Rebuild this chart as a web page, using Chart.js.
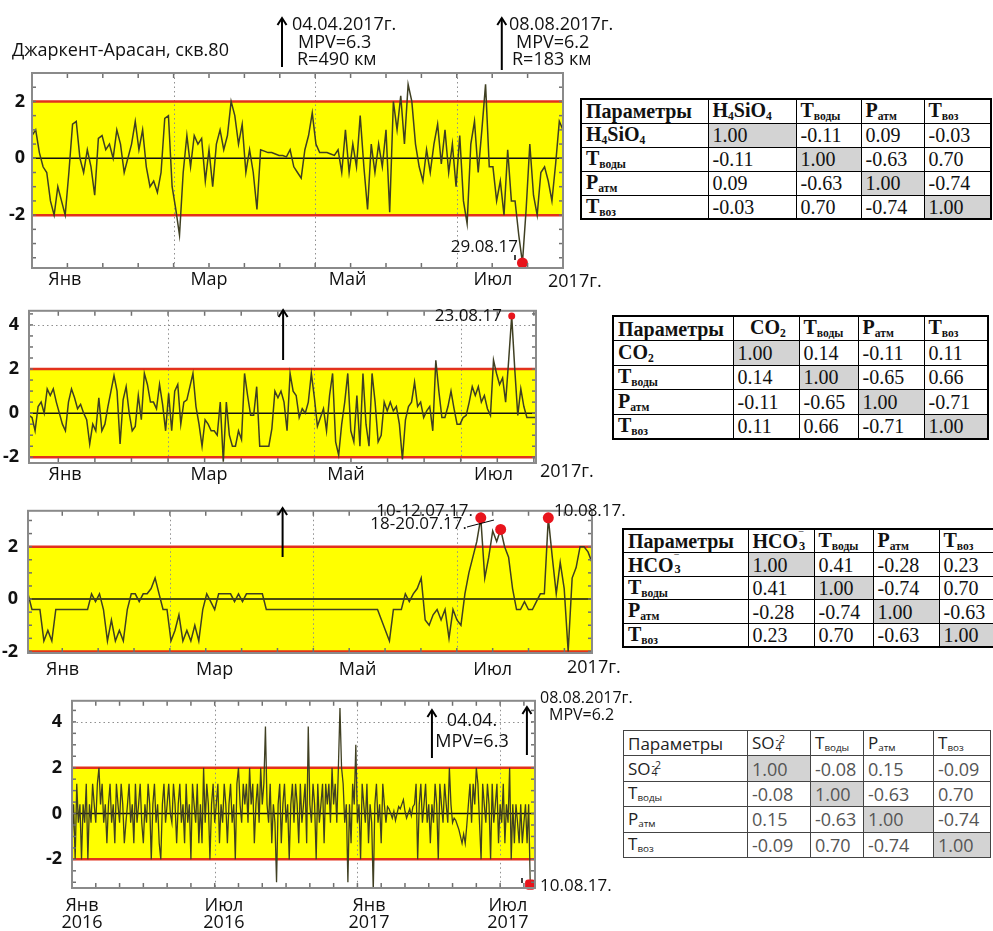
<!DOCTYPE html>
<html><head><meta charset="utf-8">
<script src="https://cdn.jsdelivr.net/npm/chart.js@4"></script>
<style>
html,body{margin:0;padding:0;background:#fff;width:993px;height:931px;overflow:hidden;position:relative}
canvas{position:absolute;left:0}
table.t{position:absolute;border-collapse:collapse;table-layout:fixed;background:#fff;z-index:3}
table.t td{padding:0 0 0 4px;white-space:nowrap;overflow:hidden;vertical-align:middle;line-height:1}
table.serif{font-family:'Liberation Serif','Times New Roman',serif;font-size:20px;color:#111;border:2px solid #000}
table.serif td{border:1px solid #000}
table.sans{font-family:'Open Sans',sans-serif;font-size:18px;color:#555;border:1.5px solid #333}
table.sans td{border:1px solid #444}
td.g{background:#d3d3d3}
td.b{font-weight:bold;color:#111}
td.dk{color:#222;font-size:17px}
td.c{text-align:center}
sub{font-size:58%;vertical-align:-0.25em}
.stack{display:inline-block;vertical-align:-0.15em;line-height:0.75;font-size:62%;text-align:left;margin-left:1px}
</style></head><body>
<canvas id="c1" width="640" height="300" style="top:0px"></canvas>
<canvas id="c2" width="640" height="200" style="top:290px"></canvas>
<canvas id="c3" width="640" height="195" style="top:490px"></canvas>
<canvas id="c4" width="640" height="251" style="top:680px"></canvas>
<script>
// ---------- data ----------
const monthsLabels = ['Янв','Мар','Май','Июл'];
const yTicks1 = [-2,0,2];
const yTicks2 = [-2,0,2,4];

// H4SiO4 normalized series (2017)
const h4sio4 = [0.8,1.0,0.2,-0.3,-0.5,-1.5,-2.0,-1.0,-1.5,-2.0,
-0.5,1.2,1.3,0.0,-0.5,0.3,-0.3,-1.3,0.7,0.8,
0.3,0.5,0.0,1.0,0.5,-0.5,0.0,0.5,1.3,0.3,
1.0,-0.3,-1.0,-0.8,-1.2,-0.5,1.4,1.5,-1.0,-1.8,
-2.7,-0.5,0.8,-0.3,0.8,0.5,0.7,-0.8,0.3,-1.0,
0.5,1.0,0.3,0.8,2.0,1.5,0.5,1.2,-0.5,0.3,
-0.5,-1.8,0.3,0.25,0.2,0.2,0.15,0.1,0.1,0.05,
0.3,-0.3,-0.5,-0.7,0.3,0.8,1.6,0.5,0.2,0.2,
0.2,0.15,0.1,0.3,-0.5,1.0,-0.5,0.5,-0.3,1.5,
-0.3,-1.8,0.5,-0.5,0.5,-0.3,1.0,-1.9,2.0,1.0,
2.2,0.5,2.6,2.0,0.5,-0.3,-0.8,0.3,-0.5,0.5,
1.2,-0.2,1.0,-0.5,0.5,-1.0,0.8,-1.5,-2.3,0.5,
1.3,-0.5,1.0,2.6,-0.3,-0.3,-1.5,-0.8,-2.0,0.3,
-1.5,-1.5,-2.7,-3.68,-1.8,0.5,-1.3,-2.0,-0.5,-0.3,
-0.8,-1.5,-0.2,1.3,1.0];
const h4sio4Events = [133];

// CO2 normalized series (2017)
const co2 = [-0.1,-0.2,-0.8,0.3,0.5,0.0,1.1,0.8,1.1,0.5,
0.0,-0.5,-0.8,0.5,1.1,0.7,0.2,0.4,0.0,-0.3,
-1.4,-0.5,-0.8,0.7,-0.8,-0.5,0.3,1.0,1.7,1.0,
-1.4,0.6,1.2,0.0,-0.8,-0.6,0.8,-0.3,1.8,1.3,
0.5,0.5,0.2,1.3,0.4,-0.8,0.9,-0.8,1.0,1.3,
-0.5,0.5,0.6,1.2,1.8,0.3,-0.5,-1.5,-0.3,-0.5,
-0.8,-0.8,-1.0,0.5,-2.2,0.5,-1.0,-1.5,-1.5,-0.8,
-1.2,1.8,0.8,-0.1,-0.1,1.2,-1.5,-1.5,-1.5,-1.5,
-0.7,1.0,0.7,1.0,0.5,-0.8,1.8,1.0,0.8,-0.2,
0.2,0.0,0.5,1.8,0.7,-0.6,-0.2,0.2,-0.8,0.8,
1.8,-1.3,-1.9,-0.5,0.5,1.8,-0.8,-1.3,0.8,-1.5,
1.8,-0.5,-1.5,1.8,0.5,-1.3,-1.0,0.5,0.1,0.5,
0.1,0.3,-0.5,-2.1,-0.3,0.3,0.5,1.4,0.3,0.5,
-0.2,0.1,0.3,-0.8,2.4,1.0,-0.2,-0.2,0.3,1.0,
0.2,-0.5,-0.5,-0.2,-0.1,0.5,1.2,0.8,1.2,0.5,
0.8,0.2,-0.1,2.4,1.8,1.3,1.6,0.5,2.4,4.4,
2.0,-0.1,1.1,0.3,-0.2,-0.2,-0.2,-0.2];
const co2Events = [159];

// HCO3 normalized series (2017)
const hco3 = [0.2,-0.4,-0.4,-0.4,-1.6,-1.2,-1.6,-0.4,-0.4,-0.4,
-0.4,-0.4,-0.4,-0.4,-0.4,-0.4,0.2,-0.1,0.2,-0.4,
-1.6,-0.8,-1.6,-1.2,-1.6,-0.4,0.2,0.2,-0.1,0.2,
0.2,0.4,0.8,0.2,-0.4,-0.4,-1.6,-1.2,-0.6,-1.6,
-1.2,-1.6,-1.0,-1.6,-0.4,0.2,-0.1,-0.4,0.2,0.2,
0.2,0.2,-0.1,0.2,-0.1,0.2,0.2,0.2,0.2,0.2,
-0.4,-0.4,-0.4,-0.4,-0.4,-0.4,-0.4,-0.4,-0.4,-0.4,
-0.4,-0.4,-0.4,-0.4,-0.4,-0.4,-0.4,-0.4,-0.4,-0.4,
-0.4,-0.4,-0.4,-0.4,-0.4,-0.4,-0.4,-0.4,-0.4,-0.8,
-1.2,-1.6,-0.4,-0.4,-0.4,0.2,-0.1,0.2,0.4,0.8,
-0.8,-1.0,-0.6,-0.4,-0.8,-0.4,-1.5,-0.4,-0.8,-1.0,
0.2,1.0,1.6,2.2,3.1,0.8,1.6,2.6,2.2,2.66,
2.0,1.6,0.4,-0.4,-0.4,-0.1,-0.4,-0.4,-0.1,0.2,
0.2,3.1,1.6,0.2,1.4,0.4,-2.0,0.8,1.2,2.0,
2.0,1.8,1.4];
const hco3Events = [114,119,131];

// SO4 normalized series (Jan 2016 – Aug 2017)
const so4 = [-1.3,0.4,-2.0,1.3,-0.4,0.4,-2.0,0.4,-0.4,1.3,
-2.0,0.4,-0.4,1.3,0.4,-0.4,1.3,2.0,0.4,1.3,
-0.4,0.4,-1.3,0.4,1.3,-0.4,0.4,-1.3,1.3,0.4,
-0.4,1.3,0.4,-1.3,-0.4,0.4,1.3,-0.4,0.4,-1.3,
1.3,-0.4,0.4,1.3,-0.4,-1.3,0.4,-0.4,1.3,0.4,
-2.0,0.4,1.3,-0.4,0.4,-1.3,-2.0,0.4,1.3,-0.4,
0.4,1.3,0.0,-0.4,1.3,0.4,-1.3,0.4,1.3,-0.4,
0.4,-1.3,1.3,-0.4,0.4,-2.0,1.3,0.4,-0.4,1.3,
-1.3,0.4,-1.3,2.0,-0.4,1.3,0.4,-2.0,0.4,1.3,
-0.4,0.4,1.3,-1.3,0.4,-0.4,1.3,0.4,-1.3,0.4,
1.3,-0.4,0.4,-2.0,1.3,2.0,0.4,-0.4,1.3,0.4,
1.3,-0.4,2.0,0.4,1.3,-1.3,0.4,1.3,-0.4,2.0,
0.4,1.3,3.8,0.4,-0.4,1.3,-1.3,0.4,-0.4,-3.0,
0.4,1.3,-1.3,0.4,1.3,-0.4,0.4,-2.0,0.4,1.3,
-0.4,1.3,0.4,-1.3,1.3,-0.4,0.4,1.3,-1.3,3.8,
0.4,-0.4,1.3,0.4,-2.0,1.3,-0.4,0.4,1.3,-1.3,
1.3,0.4,1.3,-0.4,2.0,0.4,1.3,-0.4,2.0,4.6,
2.0,1.3,-0.4,0.4,-3.0,0.4,-1.3,1.3,0.4,3.0,
-0.4,0.4,-2.0,1.3,0.4,-0.4,1.3,-1.3,0.4,-0.4,
-3.4,0.4,1.3,-0.4,0.4,-1.3,1.3,0.4,-0.4,0.3,
0.2,0.0,-0.2,0.1,-0.3,0.0,0.3,0.2,0.4,0.6,
0.1,-0.2,0.0,0.2,-0.1,0.3,0.4,1.3,-2.0,0.4,
1.3,-0.4,0.4,1.3,-0.4,0.4,-1.3,0.4,-0.4,1.3,
0.4,-2.0,1.3,0.4,-0.4,1.3,0.4,-0.4,2.0,0.4,
-0.4,-0.2,-0.3,-0.5,-0.7,-1.0,-1.3,-0.9,-1.3,-0.5,
0.4,1.3,-0.4,1.3,0.4,2.0,1.3,-0.4,-2.0,1.3,
0.4,-0.4,1.3,0.4,-2.0,1.3,-0.4,0.4,1.3,-1.3,
0.4,-0.4,1.3,-1.3,0.4,-0.4,2.0,-2.0,0.4,-1.3,
0.4,-0.4,-1.3,0.4,-1.3,-0.4,0.4,-1.3,0.4,-3.1];
const so4Events = [289];

// correlation tables
const corrH4SiO4 = [[1.00,-0.11,0.09,-0.03],[-0.11,1.00,-0.63,0.70],[0.09,-0.63,1.00,-0.74],[-0.03,0.70,-0.74,1.00]];
const corrCO2    = [[1.00,0.14,-0.11,0.11],[0.14,1.00,-0.65,0.66],[-0.11,-0.65,1.00,-0.71],[0.11,0.66,-0.71,1.00]];
const corrHCO3   = [[1.00,0.41,-0.28,0.23],[0.41,1.00,-0.74,0.70],[-0.28,-0.74,1.00,-0.63],[0.23,0.70,-0.63,1.00]];
const corrSO4    = [[1.00,-0.08,0.15,-0.09],[-0.08,1.00,-0.63,0.70],[0.15,-0.63,1.00,-0.74],[-0.09,0.70,-0.74,1.00]];
const paramNames = ['T<sub>воды</sub>','P<sub>атм</sub>','T<sub>воз</sub>'];

// ---------- drawing ----------
const FONT = "'Open Sans', sans-serif";
function seg(ctx,x1,y1,x2,y2){ctx.beginPath();ctx.moveTo(x1,y1);ctx.lineTo(x2,y2);ctx.stroke();}

function makePlugin(cfg){
  return {
    id:'band_'+cfg.id,
    beforeDatasetsDraw(chart){
      const {ctx, chartArea:a, scales:{x,y}} = chart;
      ctx.save();
      const y2=y.getPixelForValue(2), ym=y.getPixelForValue(-2), y0=y.getPixelForValue(0);
      ctx.fillStyle='#ffff00'; ctx.fillRect(a.left,y2,a.right-a.left,ym-y2);
      ctx.strokeStyle='#8f8f8f'; ctx.lineWidth=1; ctx.setLineDash([1.5,3]);
      cfg.dotK.forEach(k=>{const px=Math.round(x.getPixelForValue(cfg.tickOff+k*cfg.tickStep))+0.5; seg(ctx,px,a.top,px,a.bottom);});
      cfg.dotY.forEach(v=>{const py=Math.round(y.getPixelForValue(v))+0.5; seg(ctx,a.left,py,a.right,py);});
      ctx.setLineDash([]);
      ctx.strokeStyle='#111'; ctx.lineWidth=1.5; seg(ctx,a.left,y0,a.right,y0);
      ctx.strokeStyle='#e2321c'; ctx.lineWidth=2.5; seg(ctx,a.left,y2,a.right,y2); seg(ctx,a.left,ym,a.right,ym);
      ctx.restore();
    },
    afterDatasetsDraw(chart){
      const {ctx, chartArea:a, scales:{x,y}} = chart;
      ctx.save();
      ctx.strokeStyle='#707070'; ctx.lineWidth=1.5;
      for(let k=1;;k++){const v=cfg.tickOff+k*cfg.tickStep; if(v>=cfg.xMax) break; if(v<=0) continue;
        const px=x.getPixelForValue(v); seg(ctx,px,a.bottom,px,a.bottom-5); seg(ctx,px,a.top,px,a.top+5);}
      for(let v=Math.ceil(cfg.yMin*2)/2; v<cfg.yMax; v+=0.5){const py=y.getPixelForValue(v);
        seg(ctx,a.left,py,a.left+4,py); seg(ctx,a.right,py,a.right-4,py);}
      ctx.strokeStyle='#8a8a8a'; ctx.lineWidth=2;
      ctx.strokeRect(a.left,a.top,a.right-a.left,a.bottom-a.top);
      ctx.restore();
    },
    afterDraw(chart){
      const {ctx, scales:{x}} = chart;
      ctx.save();
      ctx.fillStyle='#111'; ctx.strokeStyle='#000'; ctx.textBaseline='middle';
      cfg.notes.forEach(n=>{
        if(n.t==='text'){ctx.font=(n.size||17)+'px '+FONT; ctx.textAlign=n.align||'left'; ctx.fillText(n.s,n.x,n.y);}
        else if(n.t==='arrow'){const px=x.getPixelForValue(n.xv); ctx.lineWidth=2; seg(ctx,px,n.y1,px,n.y2);
          ctx.beginPath(); ctx.moveTo(px-4.5,n.y2+7); ctx.lineTo(px,n.y2); ctx.lineTo(px+4.5,n.y2+7); ctx.stroke();}
        else if(n.t==='line'){ctx.lineWidth=n.w||1; seg(ctx,n.x1,n.y1,n.x2,n.y2);}
      });
      ctx.restore();
    }
  };
}

function makeChart(cfg){
  const pts = cfg.values.map((v,i)=>({x:i,y:v}));
  const ev = cfg.events.map(i=>({x:i,y:cfg.values[i]}));
  return new Chart(document.getElementById(cfg.id), {
    type:'line',
    data:{datasets:[
      {data:pts, borderColor:'#3f3f22', borderWidth:cfg.lw||1.5, pointRadius:0, tension:0, order:2},
      {data:ev, showLine:false, pointRadius:cfg.evR, pointStyle:cfg.evStyle, backgroundColor:'#e8141c', borderColor:'#e8141c', borderWidth:0, order:1, clip:false}
    ]},
    options:{
      responsive:false, animation:false, devicePixelRatio:1,
      layout:{padding:cfg.pad},
      plugins:{legend:{display:false}, tooltip:{enabled:false}},
      scales:{
        x:{type:'linear', min:0, max:cfg.xMax, grid:{display:false, drawTicks:false}, border:{display:false},
          afterBuildTicks:s=>{s.ticks=cfg.xLabels.map(l=>({value:l.v}));},
          afterFit:s=>{s.height=cfg.xH;},
          ticks:{autoSkip:false, maxRotation:0, minRotation:0, padding:cfg.xPad, color:'#111',
            font:{family:FONT, size:18, lineHeight:0.95}, callback:(v,i)=>cfg.xLabels[i].t}},
        y:{type:'linear', min:cfg.yMin, max:cfg.yMax, grid:{display:false, drawTicks:false}, border:{display:false},
          afterBuildTicks:s=>{s.ticks=cfg.yTicks.map(v=>({value:v}));},
          afterFit:s=>{s.width=cfg.yW;},
          ticks:{padding:cfg.yPad, color:'#111', font:{family:FONT, size:18, weight:'bold'}, callback:v=>String(v)}}
      }
    },
    plugins:[makePlugin(cfg)]
  });
}

const charts = [
 {id:'c1', values:h4sio4, events:h4sio4Events, evR:5.5, evStyle:'circle',
  xMax:144, tickStep:9.6, tickOff:0, dotK:[4,8,12], dotY:[],
  yMin:-3.86, yMax:3.0, yTicks:yTicks1, yW:32, yPad:7, xH:32, xPad:3,
  pad:{left:0,right:77,top:73,bottom:0},
  xLabels:[{v:8.9,t:monthsLabels[0]},{v:48,t:monthsLabels[1]},{v:85.6,t:monthsLabels[2]},{v:125,t:monthsLabels[3]}],
  notes:[
   {t:'text',s:'Джаркент-Арасан, скв.80',x:12,y:51,size:18},
   {t:'arrow',xv:67.8,y1:67,y2:18},
   {t:'text',s:'04.04.2017г.',x:292,y:25,size:18},
   {t:'text',s:'MPV=6.3',x:298,y:43,size:18},
   {t:'text',s:'R=490 км',x:297,y:60,size:18},
   {t:'arrow',xv:127.4,y1:70,y2:18},
   {t:'text',s:'08.08.2017г.',x:509,y:25,size:18},
   {t:'text',s:'MPV=6.2',x:516,y:43,size:18},
   {t:'text',s:'R=183 км',x:512,y:60,size:18},
   {t:'text',s:'29.08.17',x:518,y:247,align:'right'},
   {t:'line',x1:515,y1:255,x2:515,y2:260,w:1.5},
   {t:'text',s:'2017г.',x:548,y:282,size:18}
  ]},
 {id:'c2', values:co2, events:co2Events, evR:3.5, evStyle:'circle',
  xMax:167, tickStep:12.05, tickOff:-2.4, dotK:[4,8,12], dotY:[4],
  yMin:-2.26, yMax:4.64, yTicks:yTicks2, yW:29, yPad:10, xH:27, xPad:3,
  pad:{left:0,right:104,top:11,bottom:0},
  xLabels:[{v:11.9,t:monthsLabels[0]},{v:59.3,t:monthsLabels[1]},{v:104.4,t:monthsLabels[2]},{v:153,t:monthsLabels[3]}],
  notes:[
   {t:'arrow',xv:83.7,y1:70,y2:20},
   {t:'text',s:'23.08.17',x:502,y:26,align:'right'},
   {t:'text',s:'2017г.',x:540,y:182,size:18}
  ]},
 {id:'c3', values:hco3, events:hco3Events, evR:5.5, evStyle:'circle',
  xMax:142, tickStep:9.03, tickOff:-0.4, dotK:[4,8,12], dotY:[],
  yMin:-2.06, yMax:3.37, yTicks:yTicks1, yW:28, yPad:10, xH:32, xPad:8,
  pad:{left:0,right:48,top:10,bottom:0},
  xLabels:[{v:8.7,t:monthsLabels[0]},{v:47,t:monthsLabels[1]},{v:83,t:monthsLabels[2]},{v:117,t:monthsLabels[3]}],
  notes:[
   {t:'arrow',xv:64.1,y1:67,y2:18},
   {t:'text',s:'10-12.07.17.',x:473,y:21,align:'right'},
   {t:'text',s:'18-20.07.17.',x:467,y:34,align:'right'},
   {t:'line',x1:467,y1:37,x2:494,y2:30,w:1},
   {t:'text',s:'10.08.17.',x:554,y:21},
   {t:'text',s:'2017г.',x:567,y:178,size:18}
  ]},
 {id:'c4', values:so4, events:so4Events, evR:6, evStyle:'rectRounded', lw:1.3,
  xMax:292, tickStep:15.0, tickOff:0, dotK:[6,12,18], dotY:[4],
  yMin:-3.25, yMax:4.92, yTicks:yTicks2, yW:72, yPad:10, xH:43, xPad:9,
  pad:{left:0,right:105,top:12,bottom:0},
  xLabels:[{v:6.3,t:['Янв','2016']},{v:95.8,t:['Июл','2016']},{v:187.3,t:['Янв','2017']},{v:274.9,t:['Июл','2017']}],
  notes:[
   {t:'arrow',xv:227,y1:78,y2:30},
   {t:'arrow',xv:286.9,y1:75,y2:27},
   {t:'text',s:'04.04.',x:472,y:41,align:'center',size:18},
   {t:'text',s:'MPV=6.3',x:472,y:62,align:'center',size:18},
   {t:'text',s:'08.08.2017г.',x:540,y:18,size:16},
   {t:'text',s:'MPV=6.2',x:549,y:35,size:16},
   {t:'text',s:'10.08.17.',x:540,y:206},
   {t:'line',x1:522,y1:198,x2:522,y2:203,w:1.5}
  ]}
];
charts.forEach(makeChart);

// ---------- tables ----------
function makeTable(o){
  const t=document.createElement('table');
  t.className='t '+o.cls;
  t.style.left=o.left+'px'; t.style.top=o.top+'px';
  let h='<colgroup>'+o.cols.map(w=>'<col style="width:'+w+'px">').join('')+'</colgroup>';
  const names=[o.name].concat(paramNames);
  h+='<tr style="height:'+o.rowH+'px"><td class="'+o.hcls+'">Параметры</td>'+names.map((n,i)=>'<td class="'+o.hcls+(i===0&&o.centerFirst?' c':'')+'">'+n+'</td>').join('')+'</tr>';
  o.values.forEach((row,r)=>{
    h+='<tr style="height:'+o.rowH+'px"><td class="'+o.hcls+'">'+names[r]+'</td>'+row.map((v,c)=>'<td class="'+(r===c?'g':'')+'">'+v.toFixed(2)+'</td>').join('')+'</tr>';
  });
  t.innerHTML=h;
  t.style.width=o.cols.reduce((a,b)=>a+b,0)+'px';
  document.body.appendChild(t);
}
makeTable({cls:'serif',hcls:'b',left:580,top:98,cols:[127,88,65,63,67],rowH:24,name:'H<sub>4</sub>SiO<sub>4</sub>',values:corrH4SiO4});
makeTable({cls:'serif',hcls:'b',left:612,top:315,cols:[120,66,59,66,64],rowH:24.6,name:'CO<sub>2</sub>',values:corrCO2,centerFirst:true});
makeTable({cls:'serif',hcls:'b',left:622,top:528,cols:[125,66,59,66,70],rowH:23.4,name:'HCO<span class="stack">‾<br>3</span>',values:corrHCO3});
makeTable({cls:'sans',hcls:'dk',left:623,top:730,cols:[124,63,53,70,57],rowH:25.4,name:'SO<span class="stack">-2<br>4</span>',values:corrSO4});
</script>
</body></html>
